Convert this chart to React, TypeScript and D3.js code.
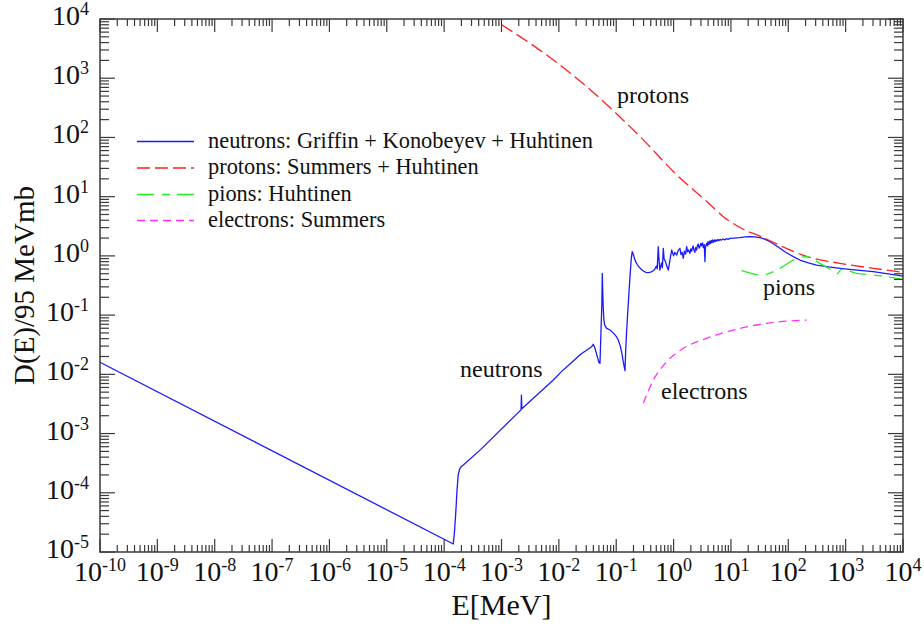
import React from "react";
import * as d3 from "d3";

// Displacement damage functions D(E) normalised to 95 MeV mb
const neutrons: [number, number][] = [
  [1e-10, 1.6e-2],
  [1.445e-4, 1.365e-5],
  [1.531e-4, 2.51e-5],
  [1.603e-4, 5.01e-5],
  [1.679e-4, 1.122e-4],
  [1.758e-4, 1.995e-4],
  [1.862e-4, 2.512e-4],
  [1.995e-4, 2.786e-4],
  [2.158e-4, 2.944e-4],
  [4.217e-4, 5.25e-4],
  [2.188e-3, 2.512e-3],
  [2.228e-3, 4.467e-3],
  [2.265e-3, 2.63e-3],
  [8.0e-3, 8.02e-3],
  [1.122e-2, 1.122e-2],
  [1.563e-2, 1.5e-2],
  [2.4e-2, 2.19e-2],
  [3.733e-2, 2.931e-2],
  [3.981e-2, 3.214e-2],
  [4.266e-2, 2.754e-2],
  [4.677e-2, 1.995e-2],
  [5.012e-2, 1.585e-2],
  [5.212e-2, 1.535e-2],
  [5.623e-2, 0.1585],
  [5.715e-2, 0.508],
  [5.821e-2, 0.2512],
  [5.957e-2, 0.1259],
  [6.095e-2, 8.318e-2],
  [6.31e-2, 6.76e-2],
  [6.761e-2, 6.026e-2],
  [7.78e-2, 5.598e-2],
  [8.913e-2, 5.012e-2],
  [0.1, 4.365e-2],
  [0.1086, 3.793e-2],
  [0.1175, 3.02e-2],
  [0.1259, 2.239e-2],
  [0.1334, 1.585e-2],
  [0.1422, 1.151e-2],
  [0.1462, 2.512e-2],
  [0.1514, 5.012e-2],
  [0.1585, 0.1072],
  [0.1738, 0.4467],
  [0.1841, 0.955],
  [0.1905, 1.178],
  [0.1995, 1.047],
  [0.2089, 0.891],
  [0.2213, 0.776],
  [0.2344, 0.708],
  [0.2512, 0.646],
  [0.2754, 0.589],
  [0.302, 0.55],
  [0.3311, 0.527],
  [0.3622, 0.52],
  [0.3981, 0.531],
  [0.4365, 0.556],
  [0.4677, 0.589],
  [0.5012, 0.676],
  [0.5188, 0.603],
  [0.5408, 1.429],
  [0.5559, 0.891],
  [0.5754, 0.575],
  [0.6166, 0.759],
  [0.6383, 0.631],
  [0.6622, 1.343],
  [0.6839, 0.891],
  [0.7244, 0.794],
  [0.7674, 0.661],
  [0.8091, 0.575],
  [0.871, 0.891],
  [0.927, 1.256],
  [1.0, 1.0],
  [1.047, 1.148],
  [1.132, 1.035],
  [1.202, 1.23],
  [1.291, 1.343],
  [1.349, 1.047],
  [1.413, 1.148],
  [1.476, 0.912],
  [1.549, 1.202],
  [1.622, 1.072],
  [1.69, 1.429],
  [1.758, 1.175],
  [1.82, 1.259],
  [1.932, 1.104],
  [1.995, 1.318],
  [2.065, 1.202],
  [2.188, 1.479],
  [2.265, 1.259],
  [2.344, 1.148],
  [2.427, 1.38],
  [2.523, 1.256],
  [2.6, 1.479],
  [2.692, 1.585],
  [2.786, 1.349],
  [2.884, 1.429],
  [2.985, 1.622],
  [3.09, 1.479],
  [3.199, 1.66],
  [3.311, 1.38],
  [3.428, 1.549],
  [3.524, 0.798],
  [3.597, 1.413],
  [3.767, 1.626],
  [3.89, 1.479],
  [3.981, 1.738],
  [4.121, 1.549],
  [4.266, 1.778],
  [4.365, 1.622],
  [4.519, 1.82],
  [4.656, 1.66],
  [4.786, 1.862],
  [4.955, 1.698],
  [5.129, 1.862],
  [5.309, 1.738],
  [5.495, 1.862],
  [5.689, 1.778],
  [5.957, 1.905],
  [6.166, 1.799],
  [6.457, 1.905],
  [6.761, 1.841],
  [7.244, 1.928],
  [7.762, 1.862],
  [8.318, 1.95],
  [8.913, 1.905],
  [9.616, 1.972],
  [11.22, 1.995],
  [14.35, 2.042],
  [17.78, 2.099],
  [21.48, 2.118],
  [26.3, 2.099],
  [32.06, 2.042],
  [39.81, 1.905],
  [47.97, 1.738],
  [58.88, 1.531],
  [71.61, 1.343],
  [87.1, 1.175],
  [106.9, 1.047],
  [131.8, 0.933],
  [160.0, 0.851],
  [223.9, 0.759],
  [311.9, 0.7],
  [501.2, 0.653],
  [796.2, 0.617],
  [1585, 0.575],
  [3034, 0.541],
  [1e4, 0.455],
];

const protons: [number, number][] = [
  [1e-3, 8000],
  [3.14e-3, 3890],
  [1.19e-2, 1514],
  [3.48e-2, 646],
  [0.1016, 251],
  [0.34, 79.4],
  [1.0, 26.3],
  [3.78, 8.32],
  [8.41, 4.17],
  [16.4, 2.818],
  [32.1, 2.163],
  [54.8, 1.698],
  [107, 1.259],
  [209, 0.977],
  [794, 0.748],
  [3020, 0.617],
  [1e4, 0.527],
];

const pions: [number, number][] = [
  [15.3, 0.562],
  [34.3, 0.475],
  [71.6, 0.617],
  [122, 0.851],
  [209, 0.968],
  [356, 0.748],
  [533, 0.593],
  [697, 0.494],
  [851, 0.593],
  [1550, 0.507],
  [3020, 0.475],
  [1e4, 0.4],
];

const electrons: [number, number][] = [
  [0.297, 3.24e-3],
  [0.443, 8.0e-3],
  [0.757, 1.63e-2],
  [1.476, 2.75e-2],
  [3.77, 4.06e-2],
  [11.0, 5.6e-2],
  [42, 7.26e-2],
  [209, 8.26e-2],
];

const legendLabels = [
  "neutrons: Griffin + Konobeyev + Huhtinen",
  "protons: Summers + Huhtinen",
  "pions: Huhtinen",
  "electrons: Summers",
];

const xTickExponents = [-10, -9, -8, -7, -6, -5, -4, -3, -2, -1, 0, 1, 2, 3, 4];
const yTickExponents = [-5, -4, -3, -2, -1, 0, 1, 2, 3, 4];

const FONT = "'Liberation Serif', 'Times New Roman', Times, serif";

const W = 924;
const H = 630;
const left = 100;
const right = 903;
const top = 19;
const bottom = 552;

const seriesStyles = [
  { data: neutrons, color: "#1a1aff", dash: "none", curve: d3.curveLinear },
  { data: protons, color: "#ff2020", dash: "13,5", curve: d3.curveMonotoneX },
  { data: pions, color: "#20ee20", dash: "17,8,8,7", curve: d3.curveMonotoneX },
  { data: electrons, color: "#ff30ff", dash: "8,5", curve: d3.curveMonotoneX },
];

export default function App() {
  const x = d3.scaleLog().domain([1e-10, 1e4]).range([left, right]);
  const y = d3.scaleLog().domain([1e-5, 1e4]).range([bottom, top]);

  const minorMult = [2, 3, 4, 5, 6, 7, 8, 9];
  const xMinor: number[] = [];
  xTickExponents.slice(0, -1).forEach((e) =>
    minorMult.forEach((m) => xMinor.push(m * Math.pow(10, e)))
  );
  const yMinor: number[] = [];
  yTickExponents.slice(0, -1).forEach((e) =>
    minorMult.forEach((m) => yMinor.push(m * Math.pow(10, e)))
  );

  const axisColor = "#3a3a3a";
  const xMaj = 13;
  const xMin = 7;
  const yMaj = 15;
  const yMin = 9;

  const legendRows = [141.5, 168, 194.5, 220.5];

  return (
    <svg
      width={W}
      height={H}
      style={{ position: "absolute", left: 0, top: 0, background: "#fff" }}
      fontFamily={FONT}
    >
      <rect x={0} y={0} width={W} height={H} fill="#fff" />

      {/* series */}
      <g fill="none">
        {seriesStyles.map((s, i) => {
          const line = d3
            .line<[number, number]>()
            .x((d) => x(d[0]))
            .y((d) => y(d[1]))
            .curve(s.curve);
          return (
            <path
              key={i}
              d={line(s.data) || ""}
              stroke={s.color}
              strokeWidth={1.3}
              strokeLinejoin="round"
              strokeDasharray={s.dash}
            />
          );
        })}
      </g>

      {/* frame */}
      <rect
        x={left}
        y={top}
        width={right - left}
        height={bottom - top}
        fill="none"
        stroke={axisColor}
        strokeWidth={1.5}
      />

      {/* ticks, mirrored on all four sides */}
      <g stroke={axisColor} strokeWidth={1.2}>
        {xTickExponents.map((e) => {
          const px = x(Math.pow(10, e));
          return (
            <g key={"xm" + e}>
              <line x1={px} x2={px} y1={bottom} y2={bottom - xMaj} />
              <line x1={px} x2={px} y1={top} y2={top + xMaj} />
            </g>
          );
        })}
        {xMinor.map((v, i) => {
          const px = x(v);
          return (
            <g key={"xn" + i}>
              <line x1={px} x2={px} y1={bottom} y2={bottom - xMin} />
              <line x1={px} x2={px} y1={top} y2={top + xMin} />
            </g>
          );
        })}
        {yTickExponents.map((e) => {
          const py = y(Math.pow(10, e));
          return (
            <g key={"ym" + e}>
              <line x1={left} x2={left + yMaj} y1={py} y2={py} />
              <line x1={right} x2={right - yMaj} y1={py} y2={py} />
            </g>
          );
        })}
        {yMinor.map((v, i) => {
          const py = y(v);
          return (
            <g key={"yn" + i}>
              <line x1={left} x2={left + yMin} y1={py} y2={py} />
              <line x1={right} x2={right - yMin} y1={py} y2={py} />
            </g>
          );
        })}
      </g>

      {/* tick labels */}
      <g fill="#111" fontSize={28}>
        {xTickExponents.map((e) => (
          <text key={"xl" + e} x={x(Math.pow(10, e))} y={581} textAnchor="middle">
            <tspan>10</tspan>
            <tspan fontSize={18} dy={-10}>
              {String(e)}
            </tspan>
          </text>
        ))}
        {yTickExponents.map((e) => (
          <text key={"yl" + e} x={89} y={y(Math.pow(10, e)) + 6} textAnchor="end">
            <tspan>10</tspan>
            <tspan fontSize={18} dy={-10}>
              {String(e)}
            </tspan>
          </text>
        ))}
      </g>

      {/* axis titles */}
      <text
        x={(left + right) / 2}
        y={615}
        textAnchor="middle"
        fontSize={30}
        fill="#111"
      >
        E[MeV]
      </text>
      <text
        transform={`translate(34, ${(top + bottom) / 2}) rotate(-90)`}
        textAnchor="middle"
        fontSize={29}
        fill="#111"
      >
        D(E)/95 MeVmb
      </text>

      {/* legend */}
      <g>
        {legendLabels.map((lab, i) => (
          <g key={lab}>
            <line
              x1={137}
              x2={194}
              y1={legendRows[i]}
              y2={legendRows[i]}
              stroke={seriesStyles[i].color}
              strokeWidth={1.3}
              strokeDasharray={seriesStyles[i].dash}
            />
            <text x={208} y={legendRows[i] + 6} fontSize={22.4} fill="#111">
              {lab}
            </text>
          </g>
        ))}
      </g>

      {/* curve annotations */}
      <g fontSize={24} fill="#111">
        <text x={617} y={103}>protons</text>
        <text x={460} y={377}>neutrons</text>
        <text x={661} y={399}>electrons</text>
        <text x={763} y={295}>pions</text>
      </g>
    </svg>
  );
}
